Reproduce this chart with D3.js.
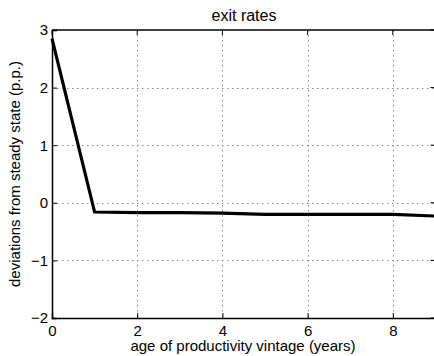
<!DOCTYPE html>
<html>
<head>
<meta charset="utf-8">
<script src="https://cdn.jsdelivr.net/npm/d3@7"></script>
<style>
  html, body { margin: 0; padding: 0; background: #fff; }
  svg { display: block; }
  text { font-family: "Liberation Sans", Arial, sans-serif; fill: #000; }
</style>
</head>
<body>
<div id="chart"></div>
<script>
// Exit-rate response by age of productivity vintage
const ages = [0, 1, 2, 3, 4, 5, 6, 7, 8, 9];
const deviations = [2.85, -0.16, -0.17, -0.17, -0.18, -0.20, -0.20, -0.20, -0.20, -0.23];
const xTicks = [0, 2, 4, 6, 8];
const yTicks = [-2, -1, 0, 1, 2, 3];
const titleText = "exit rates";
const xLabel = "age of productivity vintage (years)";
const yLabel = "deviations from steady state (p.p.)";

const W = 434, H = 356;
const mLeft = 52, mTop = 30, mRight = 435.4, mBottom = 318;

const svg = d3.select("#chart").append("svg").attr("width", W).attr("height", H);

const x = d3.scaleLinear().domain([0, 9]).range([mLeft, mRight]);
const y = d3.scaleLinear().domain([-2, 3]).range([mBottom, mTop]);

// dotted grid
const grid = svg.append("g").attr("stroke", "#8a8a8a").attr("stroke-width", 1)
  .attr("stroke-dasharray", "1.5,3.5");
grid.selectAll(".gx").data(xTicks.filter(d => d > 0)).join("line")
  .attr("x1", d => Math.round(x(d)) + 0.5).attr("x2", d => Math.round(x(d)) + 0.5)
  .attr("y1", mTop).attr("y2", mBottom);
grid.selectAll(".gy").data(yTicks.filter(d => d > -2 && d < 3)).join("line")
  .attr("y1", d => Math.round(y(d)) + 0.5).attr("y2", d => Math.round(y(d)) + 0.5)
  .attr("x1", mLeft).attr("x2", mRight);

// axes (inward ticks)
const xAxis = d3.axisBottom(x).tickValues(xTicks).tickSize(-5).tickPadding(7).tickFormat(d3.format("d"));
const yAxis = d3.axisLeft(y).tickValues(yTicks).tickSize(-5).tickPadding(4)
  .tickFormat(d => d < 0 ? "\u2212" + Math.abs(d) : d);

const gx = svg.append("g").attr("transform", `translate(0,${mBottom})`).call(xAxis);
const gy = svg.append("g").attr("transform", `translate(${mLeft},0)`).call(yAxis);
[gx, gy].forEach(g => {
  g.select(".domain").attr("stroke", "#000").attr("stroke-width", 1.5);
  g.selectAll(".tick line").attr("stroke", "#000");
  g.selectAll(".tick text").attr("font-size", 15).style("font-family", "Liberation Sans, Arial, sans-serif");
});

// top border and opposite-side ticks
svg.append("line").attr("x1", mLeft).attr("x2", mRight).attr("y1", mTop).attr("y2", mTop)
  .attr("stroke", "#000").attr("stroke-width", 1.5);
svg.append("g").selectAll("line").data(yTicks).join("line")
  .attr("x1", mRight - 5).attr("x2", mRight)
  .attr("y1", d => y(d)).attr("y2", d => y(d)).attr("stroke", "#000");
svg.append("g").selectAll("line").data(xTicks).join("line")
  .attr("x1", d => x(d)).attr("x2", d => x(d))
  .attr("y1", mTop).attr("y2", mTop + 5).attr("stroke", "#000");

// data line
const line = d3.line().x((d, i) => x(ages[i])).y(d => y(d));
svg.append("path").datum(deviations).attr("d", line)
  .attr("fill", "none").attr("stroke", "#000").attr("stroke-width", 3.2)
  .attr("stroke-linejoin", "miter");

// labels
svg.append("text").attr("x", 244).attr("y", 20.5)
  .attr("text-anchor", "middle").attr("font-size", 16).text(titleText);
svg.append("text").attr("x", 243).attr("y", 351)
  .attr("text-anchor", "middle").attr("font-size", 15).text(xLabel);
svg.append("text").attr("transform", `translate(20,174) rotate(-90)`)
  .attr("text-anchor", "middle").attr("font-size", 15).text(yLabel);
</script>
</body>
</html>
